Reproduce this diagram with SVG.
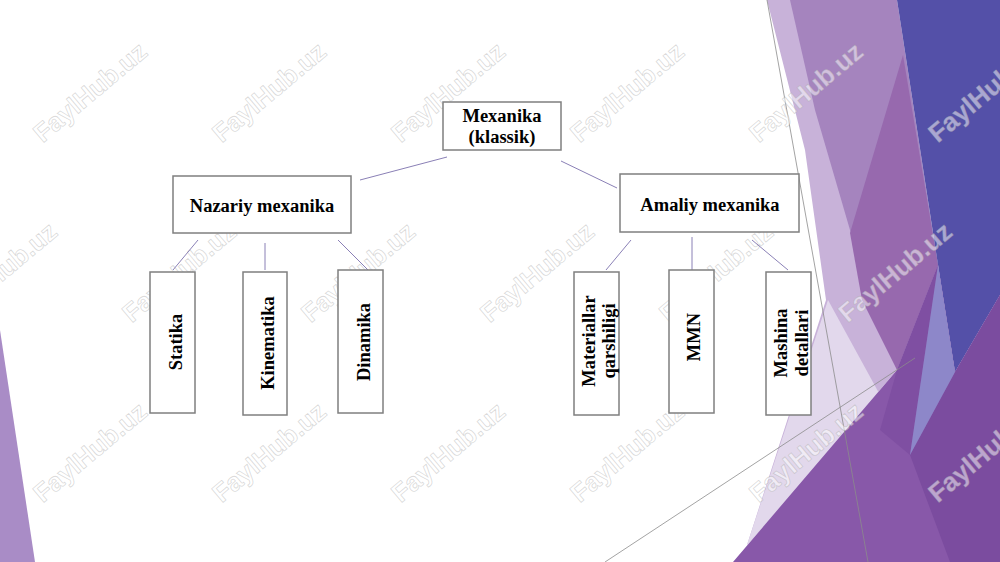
<svg xmlns="http://www.w3.org/2000/svg" width="1000" height="562" viewBox="0 0 1000 562">
<defs>
<style>
.box{fill:#fff;stroke:#7f7f7f;stroke-width:1.5}
.lbl{font-family:"Liberation Serif","Times New Roman",serif;font-weight:bold;font-size:18.5px;fill:#000;text-anchor:middle}
.conn{stroke:#8a80b6;stroke-width:1;fill:none}
.wm{font-family:"Liberation Sans",Arial,sans-serif;font-weight:bold;font-size:26px;text-anchor:middle;fill:#ffffff;fill-opacity:0.5;stroke:#a0a0a0;stroke-opacity:0.4;stroke-width:0.8}
</style>
</defs>
<rect width="1000" height="562" fill="#ffffff"/>
<g id="background">
<polygon points="0,330 35,562 0,562" fill="#a98cc6"/>
<polygon points="767,0 792,0 897,370 747,545 826,300 805,150" fill="#c8b2d9"/>
<polygon points="790,0 897,0 938,265 897,370 850,230 815,110" fill="#a584be"/>
<polygon points="903,55 938,265 897,370 862,300 850,233" fill="#9769ae"/>
<polygon points="897,0 1000,0 1000,295 955,372 938,265" fill="#5450a8"/>
<polygon points="828,300 880,395 747,545" fill="#e2d8ec"/>
<polygon points="733,562 897,370 938,265 955,372 1000,295 1000,562" fill="#8858a9"/>
<polygon points="897,370 938,265 910,455 880,430" fill="#7f4fa2"/>
<polygon points="910,455 955,372 1000,295 1000,562 950,562" fill="#7b4c9f"/>
<polygon points="938,265 955,372 910,455" fill="#8d87c9"/>
<line x1="767" y1="0" x2="868" y2="562" stroke="#8c8c8c" stroke-width="0.8"/>
<line x1="605" y1="562" x2="915" y2="358" stroke="#8c8c8c" stroke-width="0.8"/>
</g>
<g id="watermarks">
<text class="wm" transform="translate(90,92) rotate(-40)" dy="9">FaylHub.uz</text>
<text class="wm" transform="translate(269,92) rotate(-40)" dy="9">FaylHub.uz</text>
<text class="wm" transform="translate(448,92) rotate(-40)" dy="9">FaylHub.uz</text>
<text class="wm" transform="translate(627,92) rotate(-40)" dy="9">FaylHub.uz</text>
<text class="wm" transform="translate(806,92) rotate(-40)" dy="9">FaylHub.uz</text>
<text class="wm" transform="translate(985,92) rotate(-40)" dy="9">FaylHub.uz</text>
<text class="wm" transform="translate(0,272) rotate(-40)" dy="9">FaylHub.uz</text>
<text class="wm" transform="translate(179,272) rotate(-40)" dy="9">FaylHub.uz</text>
<text class="wm" transform="translate(358,272) rotate(-40)" dy="9">FaylHub.uz</text>
<text class="wm" transform="translate(537,272) rotate(-40)" dy="9">FaylHub.uz</text>
<text class="wm" transform="translate(716,272) rotate(-40)" dy="9">FaylHub.uz</text>
<text class="wm" transform="translate(895,272) rotate(-40)" dy="9">FaylHub.uz</text>
<text class="wm" transform="translate(90,452) rotate(-40)" dy="9">FaylHub.uz</text>
<text class="wm" transform="translate(269,452) rotate(-40)" dy="9">FaylHub.uz</text>
<text class="wm" transform="translate(448,452) rotate(-40)" dy="9">FaylHub.uz</text>
<text class="wm" transform="translate(627,452) rotate(-40)" dy="9">FaylHub.uz</text>
<text class="wm" transform="translate(806,452) rotate(-40)" dy="9">FaylHub.uz</text>
<text class="wm" transform="translate(985,452) rotate(-40)" dy="9">FaylHub.uz</text>
</g>
<g id="connectors">
<line class="conn" x1="447" y1="157" x2="360" y2="180"/>
<line class="conn" x1="561" y1="161" x2="617" y2="188"/>
<line class="conn" x1="198" y1="240" x2="173" y2="270"/>
<line class="conn" x1="265" y1="243" x2="265" y2="270"/>
<line class="conn" x1="338" y1="240" x2="368" y2="270"/>
<line class="conn" x1="631" y1="240" x2="606" y2="270"/>
<line class="conn" x1="692" y1="237" x2="692" y2="270"/>
<line class="conn" x1="752" y1="240" x2="788" y2="270"/>
</g>
<g id="node-mexanika">
<rect class="box" x="443" y="102" width="118" height="48"/>
<text class="lbl" x="502" y="122">Mexanika</text>
<text class="lbl" x="502" y="143">(klassik)</text>
</g>
<g id="node-nazariy">
<rect class="box" x="173" y="176" width="178" height="57"/>
<text class="lbl" x="262" y="212">Nazariy mexanika</text>
</g>
<g id="node-amaliy">
<rect class="box" x="620" y="174" width="179" height="58"/>
<text class="lbl" x="710" y="211">Amaliy mexanika</text>
</g>
<g id="node-statika">
<rect class="box" x="150" y="272" width="45" height="141"/>
<text class="lbl" transform="translate(182,342) rotate(-90)">Statika</text>
</g>
<g id="node-kinematika">
<rect class="box" x="243" y="272" width="44" height="143"/>
<text class="lbl" transform="translate(274,343) rotate(-90)">Kinematika</text>
</g>
<g id="node-dinamika">
<rect class="box" x="338" y="270" width="45" height="143"/>
<text class="lbl" transform="translate(370,342) rotate(-90)">Dinamika</text>
</g>
<g id="node-materiallar">
<rect class="box" x="574" y="272" width="45" height="143"/>
<text class="lbl" transform="translate(595,341) rotate(-90)">Materiallar</text>
<text class="lbl" transform="translate(615,341) rotate(-90)">qarshiligi</text>
</g>
<g id="node-mmn">
<rect class="box" x="669" y="270" width="45" height="143"/>
<text class="lbl" transform="translate(700,337) rotate(-90)">MMN</text>
</g>
<g id="node-mashina">
<rect class="box" x="766" y="272" width="45" height="143"/>
<text class="lbl" transform="translate(787,343) rotate(-90)">Mashina</text>
<text class="lbl" transform="translate(808,343) rotate(-90)">detallari</text>
</g>
</svg>
